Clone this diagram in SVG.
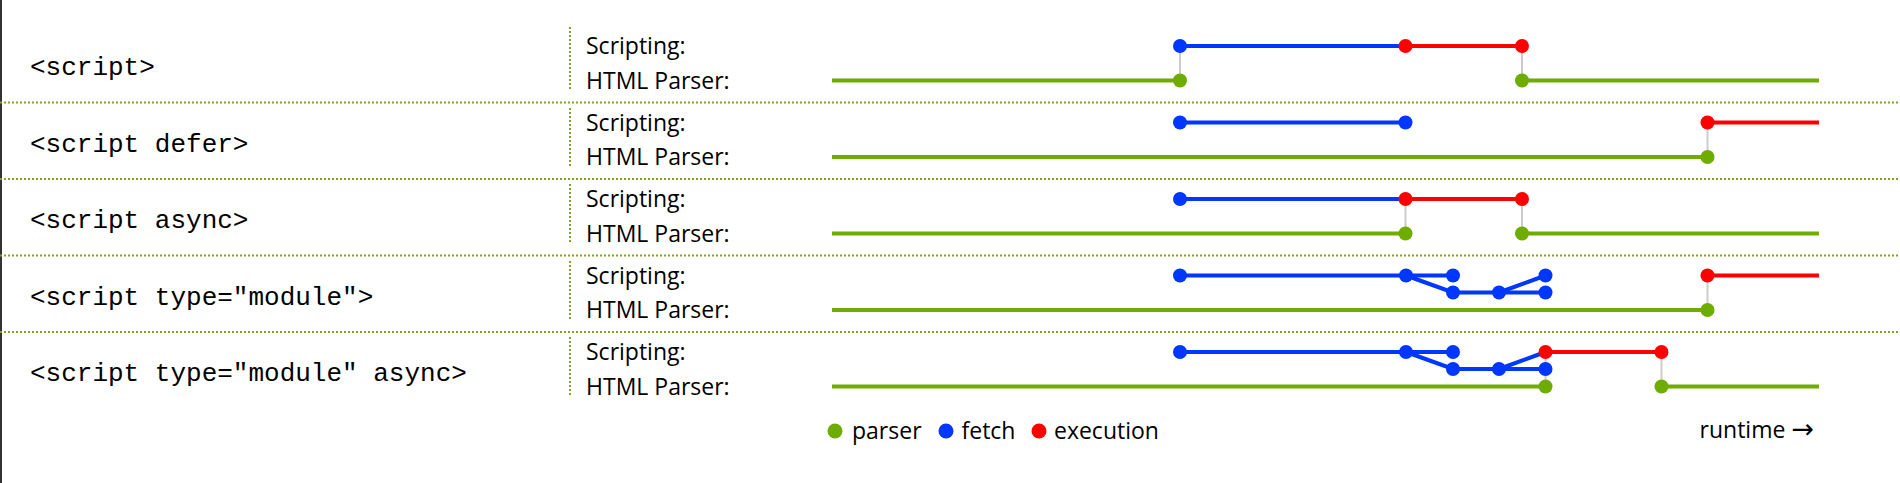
<svg xmlns="http://www.w3.org/2000/svg" width="1900" height="483" viewBox="0 0 1900 483">
<style>
.tag{font-family:"Liberation Mono",monospace;font-size:26px;fill:#000}
.lbl{font-family:"Open Sans","Noto Sans",sans-serif;font-size:23px;fill:#000}
.arw{font-family:"DejaVu Sans",sans-serif;font-size:27px}
.sep{stroke:#7ea322;stroke-width:2;stroke-dasharray:2 2;fill:none}
.g{stroke:#6fac00;stroke-width:4;fill:none}
.b{stroke:#0037ff;stroke-width:4;fill:none}
.r{stroke:#ff0000;stroke-width:4;fill:none}
.v{stroke:#cccccc;stroke-width:2;fill:none}
.dg{fill:#6fac00}
.db{fill:#0037ff}
.dr{fill:#ff0000}
</style>
<rect x="0" y="0" width="2" height="483" fill="#333"/>
<g id="separators">
<line class="sep" x1="0" y1="102.5" x2="1900" y2="102.5"/>
<line class="sep" x1="0" y1="179" x2="1900" y2="179"/>
<line class="sep" x1="0" y1="255.5" x2="1900" y2="255.5"/>
<line class="sep" x1="0" y1="332" x2="1900" y2="332"/>
</g>

<g id="row-script">
<text class="tag" x="30" y="75">&lt;script&gt;</text>
<line class="sep" x1="570" y1="27" x2="570" y2="91"/>
<text class="lbl" x="586" y="54.3">Scripting:</text>
<text class="lbl" x="586" y="88.5">HTML Parser:</text>
</g>
<g id="row-defer">
<text class="tag" x="30" y="151.5">&lt;script defer&gt;</text>
<line class="sep" x1="570" y1="108" x2="570" y2="167"/>
<text class="lbl" x="586" y="130.8">Scripting:</text>
<text class="lbl" x="586" y="165">HTML Parser:</text>
</g>
<g id="row-async">
<text class="tag" x="30" y="228">&lt;script async&gt;</text>
<line class="sep" x1="570" y1="184" x2="570" y2="244"/>
<text class="lbl" x="586" y="207.3">Scripting:</text>
<text class="lbl" x="586" y="241.5">HTML Parser:</text>
</g>
<g id="row-module">
<text class="tag" x="30" y="304.5">&lt;script type="module"&gt;</text>
<line class="sep" x1="570" y1="261" x2="570" y2="320"/>
<text class="lbl" x="586" y="283.8">Scripting:</text>
<text class="lbl" x="586" y="318">HTML Parser:</text>
</g>
<g id="row-module-async">
<text class="tag" x="30" y="381">&lt;script type="module" async&gt;</text>
<line class="sep" x1="570" y1="337" x2="570" y2="397"/>
<text class="lbl" x="586" y="360.3">Scripting:</text>
<text class="lbl" x="586" y="394.5">HTML Parser:</text>
</g>

<g id="connectors">
<!-- row 1 -->
<line class="v" x1="1180" y1="46" x2="1180" y2="80.5"/>
<line class="v" x1="1522" y1="46" x2="1522" y2="80.5"/>
<line class="g" x1="832" y1="80.5" x2="1180" y2="80.5"/>
<line class="g" x1="1522" y1="80.5" x2="1819" y2="80.5"/>
<line class="b" x1="1180" y1="46" x2="1405.5" y2="46"/>
<line class="r" x1="1405.5" y1="46" x2="1522" y2="46"/>
<!-- row 2 -->
<line class="v" x1="1707.5" y1="122.5" x2="1707.5" y2="157"/>
<line class="g" x1="832" y1="157" x2="1707.5" y2="157"/>
<line class="b" x1="1180" y1="122.5" x2="1405.5" y2="122.5"/>
<line class="r" x1="1707.5" y1="122.5" x2="1819" y2="122.5"/>
<!-- row 3 -->
<line class="v" x1="1405.5" y1="199" x2="1405.5" y2="233.5"/>
<line class="v" x1="1522" y1="199" x2="1522" y2="233.5"/>
<line class="g" x1="832" y1="233.5" x2="1405.5" y2="233.5"/>
<line class="g" x1="1522" y1="233.5" x2="1819" y2="233.5"/>
<line class="b" x1="1180" y1="199" x2="1405.5" y2="199"/>
<line class="r" x1="1405.5" y1="199" x2="1522" y2="199"/>
<!-- row 4 -->
<line class="v" x1="1707.5" y1="275.5" x2="1707.5" y2="310"/>
<line class="g" x1="832" y1="310" x2="1707.5" y2="310"/>
<polyline class="b" points="1180,275.5 1406,275.5 1453,275.5"/>
<polyline class="b" points="1406,275.5 1453,292.5 1545.5,292.5"/>
<line class="b" x1="1499" y1="292.5" x2="1545.5" y2="275.5"/>
<line class="r" x1="1707.5" y1="275.5" x2="1819" y2="275.5"/>
<!-- row 5 -->
<line class="v" x1="1545.5" y1="352" x2="1545.5" y2="386.5"/>
<line class="v" x1="1661.5" y1="352" x2="1661.5" y2="386.5"/>
<line class="g" x1="832" y1="386.5" x2="1545.5" y2="386.5"/>
<line class="g" x1="1661.5" y1="386.5" x2="1819" y2="386.5"/>
<polyline class="b" points="1180,352 1406,352 1453,352"/>
<polyline class="b" points="1406,352 1453,369 1545.5,369"/>
<line class="b" x1="1499" y1="369" x2="1545.5" y2="352"/>
<line class="r" x1="1545.5" y1="352" x2="1661.5" y2="352"/>
</g>

<g id="events">
<!-- row 1 -->
<circle class="db" cx="1180" cy="46" r="7"/>
<circle class="dr" cx="1405.5" cy="46" r="7"/>
<circle class="dr" cx="1522" cy="46" r="7"/>
<circle class="dg" cx="1180" cy="80.5" r="7"/>
<circle class="dg" cx="1522" cy="80.5" r="7"/>
<!-- row 2 -->
<circle class="db" cx="1180" cy="122.5" r="7"/>
<circle class="db" cx="1405.5" cy="122.5" r="7"/>
<circle class="dr" cx="1707.5" cy="122.5" r="7"/>
<circle class="dg" cx="1707.5" cy="157" r="7"/>
<!-- row 3 -->
<circle class="db" cx="1180" cy="199" r="7"/>
<circle class="dr" cx="1405.5" cy="199" r="7"/>
<circle class="dr" cx="1522" cy="199" r="7"/>
<circle class="dg" cx="1405.5" cy="233.5" r="7"/>
<circle class="dg" cx="1522" cy="233.5" r="7"/>
<!-- row 4 -->
<circle class="db" cx="1180" cy="275.5" r="7"/>
<circle class="db" cx="1406" cy="275.5" r="7"/>
<circle class="db" cx="1453" cy="275.5" r="7"/>
<circle class="db" cx="1453" cy="292.5" r="7"/>
<circle class="db" cx="1499" cy="292.5" r="7"/>
<circle class="db" cx="1545.5" cy="292.5" r="7"/>
<circle class="db" cx="1545.5" cy="275.5" r="7"/>
<circle class="dr" cx="1707.5" cy="275.5" r="7"/>
<circle class="dg" cx="1707.5" cy="310" r="7"/>
<!-- row 5 -->
<circle class="db" cx="1180" cy="352" r="7"/>
<circle class="db" cx="1406" cy="352" r="7"/>
<circle class="db" cx="1453" cy="352" r="7"/>
<circle class="db" cx="1453" cy="369" r="7"/>
<circle class="db" cx="1499" cy="369" r="7"/>
<circle class="db" cx="1545.5" cy="369" r="7"/>
<circle class="dr" cx="1545.5" cy="352" r="7"/>
<circle class="dr" cx="1661.5" cy="352" r="7"/>
<circle class="dg" cx="1545.5" cy="386.5" r="7"/>
<circle class="dg" cx="1661.5" cy="386.5" r="7"/>
</g>

<g id="legend">
<circle class="dg" cx="835" cy="431" r="7.5"/>
<text class="lbl" x="852" y="439">parser</text>
<circle class="db" cx="946" cy="431" r="7.5"/>
<text class="lbl" x="961.5" y="439">fetch</text>
<circle class="dr" cx="1039" cy="431" r="7.5"/>
<text class="lbl" x="1054" y="439">execution</text>
<text class="lbl" x="1814" y="438" text-anchor="end">runtime <tspan class="arw">→</tspan></text>
</g>
</svg>
